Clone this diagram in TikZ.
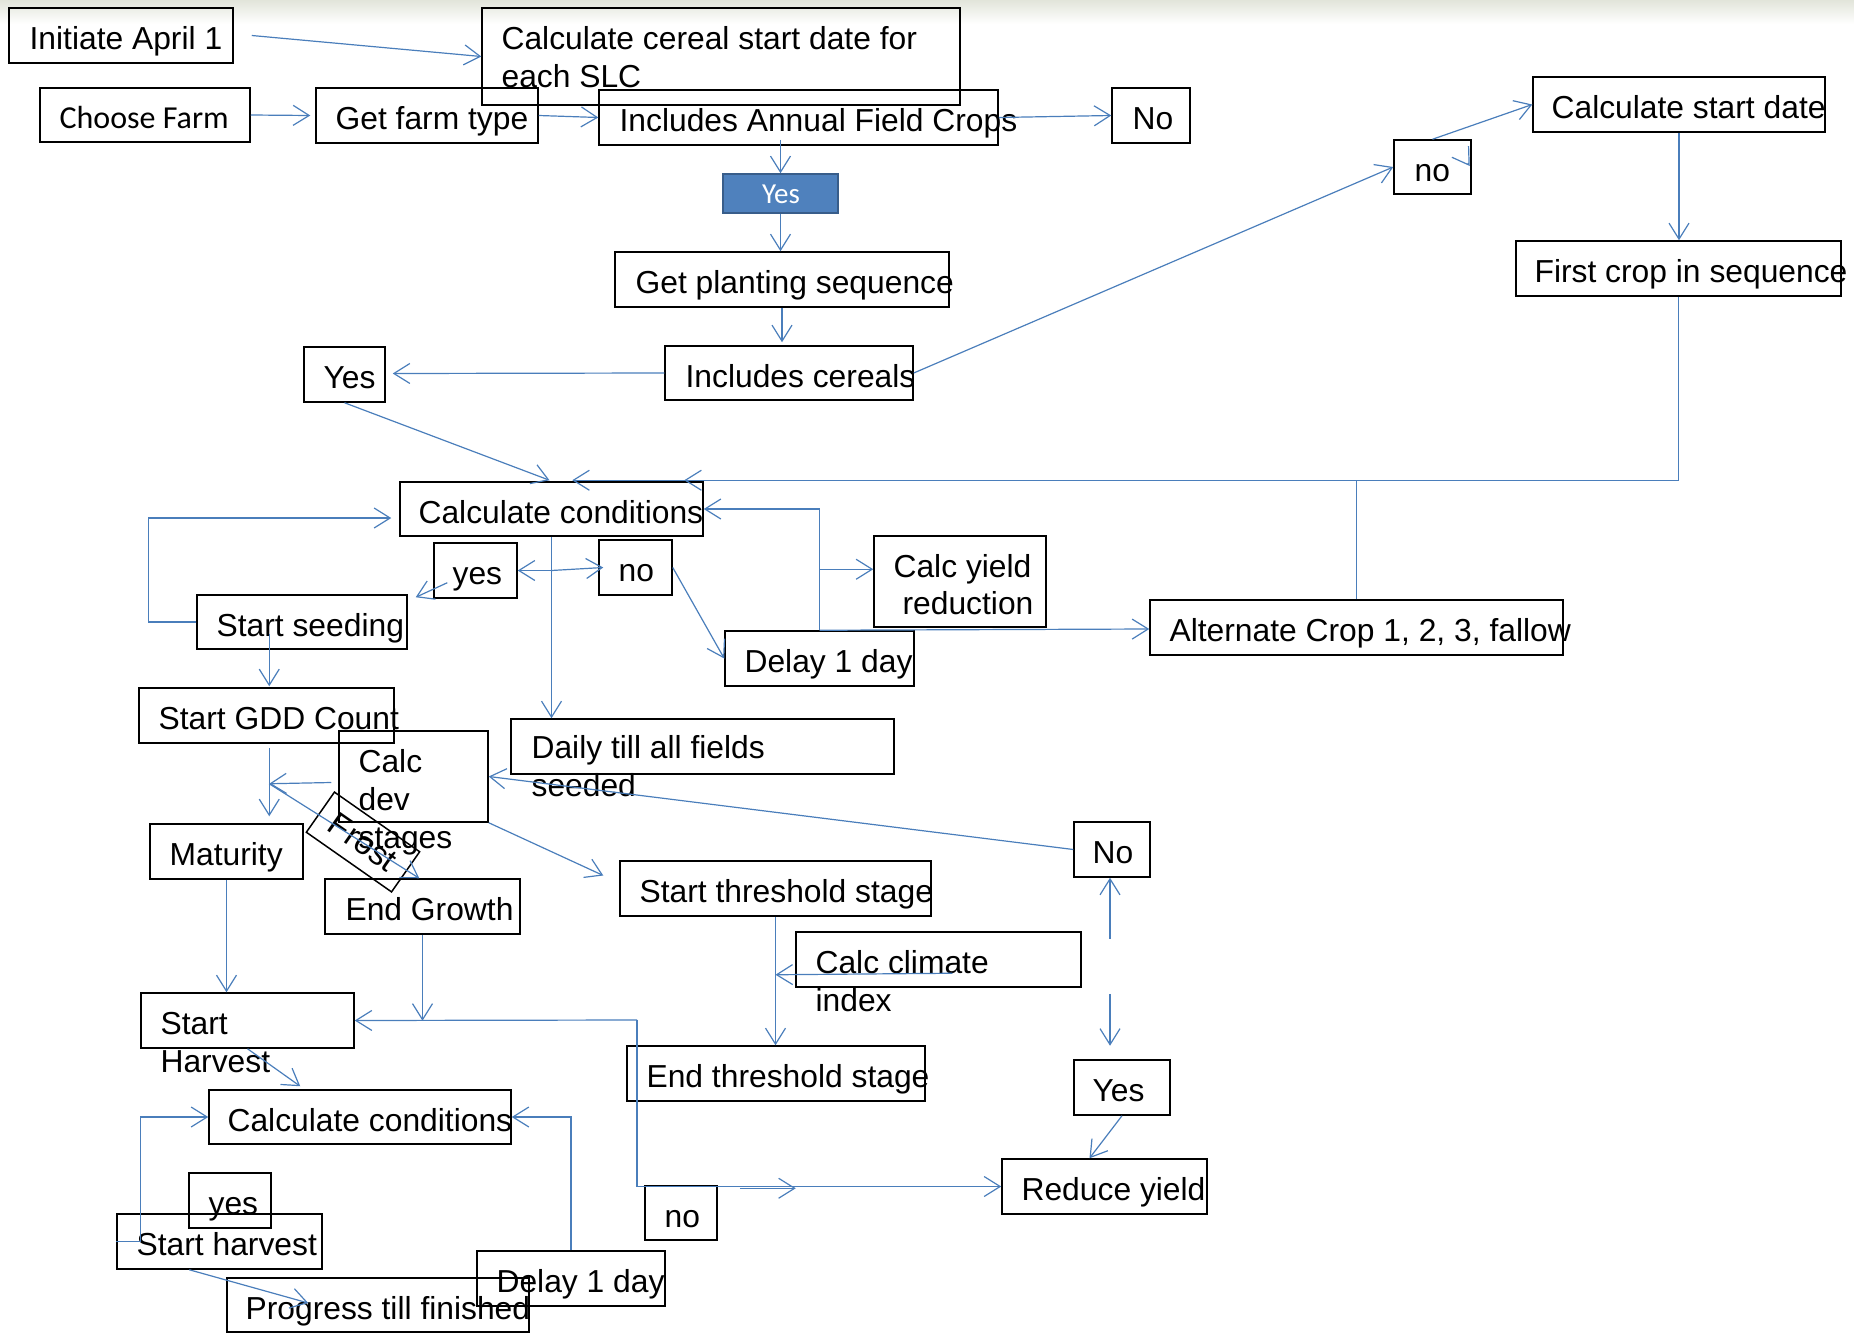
\documentclass[tikz,border=0pt]{standalone}
\usepackage{fontspec}
\setmainfont{Liberation Sans}
\newfontfamily\calfont{Carlito}
\usetikzlibrary{arrows.meta,calc,fit}
\definecolor{linkblue}{HTML}{4A7EBB}
\definecolor{yesfill}{HTML}{4F81BD}
\definecolor{yesedge}{HTML}{385D8A}
\newcommand\multiline[1]{\begin{tabular}[t]{@{}l@{}}#1\end{tabular}}
\begin{document}
\begin{tikzpicture}[x=0.5pt,y=-0.5pt,
  box/.style={draw=black, line width=0.75pt, inner sep=0pt},
  lbl/.style={anchor=base west, inner sep=0pt, xshift=0.6pt, font=\fontsize{15.9}{19}\selectfont},
  conn/.style={draw=linkblue, line width=0.6pt, -{Straight Barb[length=8pt,width=10pt]}}]

\useasboundingbox (0,0) rectangle (1854,1333);
\shade[top color={rgb,255:red,226;green,229;blue,218}, bottom color=white] (0,0) rectangle (1854,24);

% ---------- boxes ----------
\node[box, fit={(9,8) (233,63)}] (init) {};
\node[lbl] (init-t) at (28,49) {Initiate April 1};

\node[box, fit={(482,8) (960,105)}] (cereal) {};
\node[lbl] (cereal-t) at (500,49) {\multiline{Calculate cereal start date for\\each SLC}};

\node[box, fit={(40,88) (250,142)}] (choose) {};
\node[lbl, font=\calfont\fontsize{16}{19}\selectfont] (choose-t) at (58,128) {Choose Farm};

\node[box, fit={(316,88) (538,143)}] (gft) {};
\node[lbl] (gft-t) at (334,129) {Get farm type};

\node[box, fit={(599,90) (998,145)}] (iac) {};
\node[lbl] (iac-t) at (618,131) {Includes Annual Field Crops};

\node[box, fit={(1112,88) (1190,143)}] (noA) {};
\node[lbl] (noA-t) at (1131,129) {No};

\node[fit={(723,174) (838,213)}, fill=yesfill, draw=yesedge, line width=0.8pt, inner sep=0pt] (yesb) {};
\node[anchor=base, inner sep=0pt, text=white, font=\calfont\fontsize{14.5}{17}\selectfont] (yesb-t) at (781,203) {Yes};

\node[box, fit={(615,252) (949,307)}] (gps) {};
\node[lbl] (gps-t) at (634,293) {Get planting sequence};

\node[box, fit={(665,346) (913,400)}] (inc) {};
\node[lbl] (inc-t) at (684,387) {Includes cereals};

\node[box, fit={(304,347) (385,402)}] (yesL) {};
\node[lbl] (yesL-t) at (322,388) {Yes};

\node[box, fit={(1394,140) (1471,194)}] (noU) {};
\node[lbl] (noU-t) at (1413,181) {no};

\node[box, fit={(1533,77) (1825,132)}] (csd) {};
\node[lbl] (csd-t) at (1550,118) {Calculate start date};

\node[box, fit={(1516,241) (1841,296)}] (fc) {};
\node[lbl] (fc-t) at (1533,282) {First crop in sequence};

\node[box, fit={(400,482) (703,536)}] (cc) {};
\node[lbl] (cc-t) at (417,523) {Calculate conditions};

\node[box, fit={(434,543) (517,598)}] (yes) {};
\node[lbl] (yes-t) at (451,584) {yes};

\node[box, fit={(599,540) (672,595)}] (no) {};
\node[lbl] (no-t) at (617,581) {no};

\node[box, fit={(197,595) (407,649)}] (seed) {};
\node[lbl] (seed-t) at (215,636) {Start seeding};

\node[box, fit={(874,536) (1046,627)}] (cy) {};
\node[lbl] (cy-t1) at (892,577) {Calc yield};
\node[lbl] (cy-t2) at (901,614) {reduction};

\node[box, fit={(725,631) (914,686)}] (d1) {};
\node[lbl] (d1-t) at (743,672) {Delay 1 day};

\node[box, fit={(1150,600) (1563,655)}] (alt) {};
\node[lbl] (alt-t) at (1168,641) {Alternate Crop 1, 2, 3, fallow};

\node[box, fit={(139,688) (394,743)}] (gdd) {};
\node[lbl] (gdd-t) at (157,729) {Start GDD Count};

\node[box, fit={(339,731) (488,822)}] (cd) {};
\node[lbl] (cd-t) at (357,772) {\multiline{Calc\\dev\\stages}};

\node[box, fit={(511,719) (894,774)}] (daily) {};
\node[lbl] (daily-t) at (530,758) {\multiline{Daily till all fields\\seeded}};

\node[box, fit={(150,824) (303,879)}] (mat) {};
\node[lbl] (mat-t) at (168,865) {Maturity};

\node[box, rotate=-35, minimum width=52pt, minimum height=24.5pt,
      font=\fontsize{16.5}{19}\selectfont] (frost) at (363,842) {Frost};

\node[box, fit={(325,879) (520,934)}] (eg) {};
\node[lbl] (eg-t) at (344,920) {End Growth};

\node[box, fit={(1074,822) (1150,877)}] (noR) {};
\node[lbl] (noR-t) at (1091,863) {No};

\node[box, fit={(620,861) (931,916)}] (st) {};
\node[lbl] (st-t) at (638,902) {Start threshold stage};

\node[box, fit={(796,932) (1081,987)}] (cci) {};
\node[lbl] (cci-t) at (814,973) {\multiline{Calc climate\\index}};

\node[box, fit={(627,1046) (925,1101)}] (et) {};
\node[lbl] (et-t) at (645,1087) {End threshold stage};

\node[box, fit={(1074,1060) (1170,1115)}] (yesR) {};
\node[lbl] (yesR-t) at (1091,1101) {Yes};

\node[box, fit={(1002,1159) (1207,1214)}] (ry) {};
\node[lbl] (ry-t) at (1020,1200) {Reduce yield};

\node[box, fit={(645,1186) (717,1240)}] (noL) {};
\node[lbl] (noL-t) at (663,1227) {no};

\node[box, fit={(141,993) (354,1048)}] (sh) {};
\node[lbl] (sh-t) at (159,1034) {\multiline{Start\\Harvest}};

\node[box, fit={(209,1090) (511,1144)}] (cc2) {};
\node[lbl] (cc2-t) at (226,1131) {Calculate conditions};

\node[box, fit={(189,1173) (271,1228)}] (yesH) {};
\node[lbl] (yesH-t) at (207,1214) {yes};

\node[box, fit={(117,1214) (322,1269)}] (shv) {};
\node[lbl] (shv-t) at (135,1255) {Start harvest};

\node[box, fit={(477,1251) (665,1306)}] (d2) {};
\node[lbl] (d2-t) at (495,1292) {Delay 1 day};

\node[box, fit={(227,1278) (529,1332)}] (ptf) {};
\node[lbl] (ptf-t) at (244,1319) {Progress till finished};

% ---------- connectors ----------
\draw[conn] ($(init.east)+(18,0)$) -- (cereal.west);
\draw[conn] (choose.east) -- ($(gft.west)+(-5,0)$);
\draw[conn] (gft.east) -- (iac.west);
\draw[conn] (iac.east) -- (noA.west);
\draw[conn] ($(yesb.north |- iac.south)+(0,-6)$) -- (yesb.north);
\draw[conn] (yesb.south) -- (yesb.south |- gps.north);
\draw[conn] (gps.south) -- ($(gps.south |- inc.north)+(0,-3)$);
\draw[conn] (inc.west) -- ($(yesL.east)+(7,-1)$);
\draw[conn] (inc.east) -- (noU.west);
\draw[conn] (noU.north) -- (csd.west);
\draw[conn] ($(noU.east)+(-4,-4)$) -- ($(noU.east)+(-2,-1)$);
\draw[conn] (csd.south) -- (csd.south |- fc.north);
\draw[conn] (fc.south) |- ($(cc.north west)+(173,-1)$);
\draw[conn] (alt.north) |- ($(cc.north west)+(285,-1)$);
\draw[conn] (yesL.south) -- ($(cc.north)+(-2,-1)$);

% delay loop back to the conditions
\draw[conn] (d1.north) |- (cc.east);
\coordinate (j1) at ($(d1.north)+(0,-61)$);
\draw[conn] (j1) -- (j1 -| cy.west);
\draw[conn] (d1.north) -- ($(alt.west)+(0,1.5)$);

\draw[conn] (cc.south) -- (cc.south |- daily.north);
\coordinate (j5) at (cc.south |- yes.east);
\draw[conn] (j5) -- (yes.east);
\draw[conn] (j5) -- ($(no.west)+(5,0)$);
\draw[conn] ($(yes.south west)+(14,-16)$) -- ($(seed.north east)+(8,3)$);
\draw[conn] (no.east) -- (d1.west);
\draw[conn] (seed.west) -- ++(-48,0) |- ($(cc.west)+(-8,9)$);

% growth stages
\coordinate (s1) at ($(seed.south west)+(73,-16)$);
\draw[conn] (s1) -- ($(s1 |- gdd.north)+(0,-1)$);
\coordinate (g1) at ($(gdd.south west)+(131,4)$);
\draw[conn] (g1) -- ($(g1 |- mat.north)+(0,-7)$);
\coordinate (fr0) at ($(gdd.south west)+(131,40)$);
\draw[conn] ($(cd.west)+(-7,6)$) -- (fr0);
\draw[conn] (fr0) -- ($(eg.north west)+(95,0)$);
\draw[conn] (cd.south east) -- ($(st.west)+(-16,-13)$);
\draw[conn] (noR.west) -- (cd.east);
\draw[conn] (mat.south) -- (mat.south |- sh.north);

% end of growth to harvest and yield
\draw[conn] (eg.south) -- ++(0,86);
\coordinate (j3) at (637,1020);
\draw[conn] (j3) -- (sh.east);
\draw[conn] (j3) |- (ry.west);
\draw[conn] ($(noL.north east)+(22,3)$) -- ($(noL.north east)+(78,3)$);

% threshold stages
\draw[conn] (st.south) -- (st.south |- et.north);
\coordinate (j4) at ($(st.south)+(0,58)$);
\draw[conn] ($(cci.north west)+(157,42)$) -- (j4);
\draw[conn] ($(noR.south)+(-2,61)$) -- ($(noR.south)+(-2,0)$);
\draw[conn] ($(noR.south)+(-2,116)$) -- ($(noR.south)+(-2,168)$);
\draw[conn] (yesR.south) -- ($(ry.north)+(-15,0)$);

% harvest loop
\draw[conn] (sh.south) -- ($(cc2.north west)+(92,-3)$);
\draw[conn] (shv.west) -- ++(24,0) |- (cc2.west);
\draw[conn] (d2.north) |- (cc2.east);
\draw[conn] ($(shv.south west)+(73,0)$) -- ($(ptf.west)+(82,-2)$);
\end{tikzpicture}
\end{document}
